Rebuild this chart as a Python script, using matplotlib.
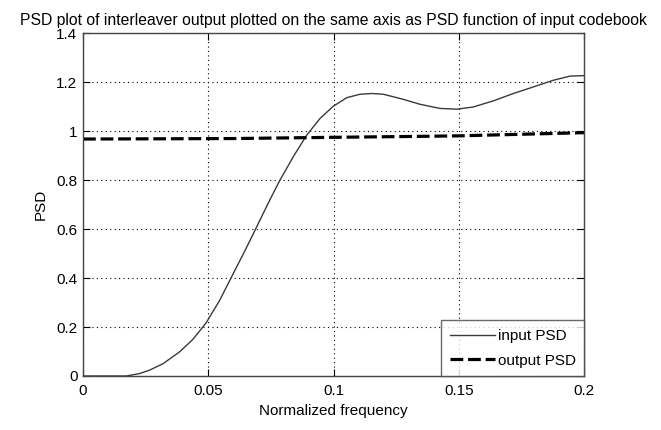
import matplotlib
matplotlib.use("Agg")
import matplotlib.pyplot as plt

# ---- data ----
in_f = [0.0, 0.0173, 0.0226, 0.0266, 0.0319, 0.0386, 0.0439, 0.0492, 0.0546, 0.0592,
        0.0639, 0.0672, 0.0747, 0.0786, 0.084, 0.0893, 0.0946, 0.0999, 0.1053, 0.1106,
        0.1152, 0.1199, 0.1279, 0.1345, 0.1425, 0.1492, 0.1558, 0.1638, 0.1718, 0.1798,
        0.1877, 0.1944, 0.2]
in_psd = [0.0, 0.0, 0.010, 0.024, 0.050, 0.099, 0.150, 0.218, 0.310, 0.403,
          0.497, 0.565, 0.722, 0.800, 0.897, 0.984, 1.052, 1.102, 1.137, 1.151,
          1.154, 1.151, 1.130, 1.110, 1.093, 1.090, 1.099, 1.124, 1.154, 1.181,
          1.208, 1.225, 1.227]
out_f = [0.0, 0.06, 0.1, 0.135, 0.15, 0.2]
out_psd = [0.968, 0.970, 0.975, 0.979, 0.981, 0.994]
xticks = [0, 0.05, 0.1, 0.15, 0.2]
xticklabels = ["0", "0.05", "0.1", "0.15", "0.2"]
yticks = [0, 0.2, 0.4, 0.6, 0.8, 1.0, 1.2, 1.4]
yticklabels = ["0", "0.2", "0.4", "0.6", "0.8", "1", "1.2", "1.4"]

plt.rcParams["font.family"] = ["Liberation Sans", "DejaVu Sans"]
plt.rcParams["font.size"] = 11

fig = plt.figure(figsize=(6.61, 4.30), dpi=100)
ax = fig.add_axes([0.1256, 0.1256, 0.758, 0.797])
ax.plot(in_f, in_psd, "-", color="#3a3a3a", lw=1.0, label="input PSD")
ax.plot(out_f, out_psd, "--", color="black", lw=2.3, dashes=(4, 1.5), label="output PSD")
ax.set_xlim(0, 0.2); ax.set_ylim(0, 1.4)
ax.set_xticks(xticks); ax.set_xticklabels(xticklabels)
ax.set_yticks(yticks); ax.set_yticklabels(yticklabels)
ax.tick_params(direction="in", top=True, right=True, length=5, width=0.8, labelsize=11)
ax.tick_params(axis="x", pad=6)
ax.tick_params(axis="y", pad=4)
ax.grid(True, ls=(0, (1, 3)), color="black", lw=0.8)
for s in ax.spines.values():
    s.set_color("#444444"); s.set_linewidth(1.0)
ax.set_xlabel("Normalized frequency", labelpad=4)
ax.set_ylabel("PSD", labelpad=6)
ax.set_title("PSD plot of interleaver output plotted on the same axis as PSD function of input codebook",
             fontsize=11.3, pad=6)
leg = ax.legend(loc="lower right", borderaxespad=0, fancybox=False, edgecolor="#444444",
                handlelength=3.0, handletextpad=0.15, borderpad=0.55, labelspacing=0.7)
leg.get_frame().set_linewidth(1.0)
fig.savefig("out.png", dpi=100)
